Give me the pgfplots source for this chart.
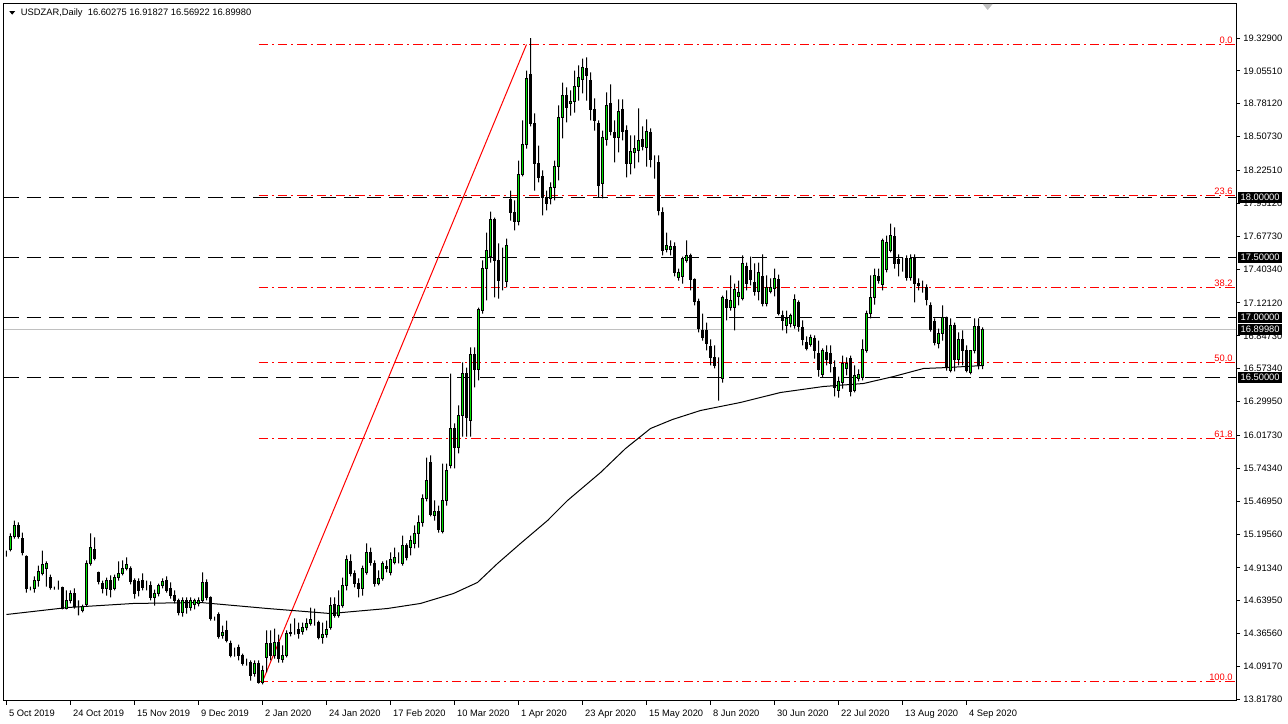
\documentclass[border=0pt]{standalone}
\usepackage{pgfplots}
\usepackage{pgfplotstable}
\pgfplotsset{compat=1.18}
\usepackage{fontspec}
\setmainfont{Liberation Sans}
\definecolor{cgreen}{RGB}{0,225,0}
\definecolor{pricegray}{RGB}{192,192,192}
\definecolor{fibred}{RGB}{255,0,0}
\newcommand{\lab}{\fontsize{7}{8}\selectfont}

\pgfplotstableread{
i o h l c
0 15.025 15.058 15.008 15.025
1 15.067 15.200 15.050 15.175
2 15.175 15.308 15.158 15.266
3 15.267 15.292 15.158 15.175
4 15.158 15.208 15.017 15.042
5 15.008 15.017 14.708 14.742
6 14.742 14.758 14.725 14.742
7 14.742 14.842 14.708 14.808
8 14.808 14.933 14.758 14.883
9 14.867 15.058 14.850 14.942
10 14.908 14.967 14.758 14.950
11 14.833 14.858 14.733 14.750
12 14.750 14.758 14.733 14.750
13 14.750 14.808 14.733 14.750
14 14.750 14.758 14.567 14.575
15 14.575 14.725 14.567 14.642
16 14.642 14.725 14.617 14.700
17 14.700 14.742 14.575 14.592
18 14.583 14.642 14.517 14.583
19 14.558 14.608 14.542 14.592
20 14.608 14.975 14.592 14.950
21 14.950 15.200 14.933 15.083
22 15.067 15.167 14.975 14.992
23 14.875 14.883 14.775 14.800
24 14.783 14.808 14.700 14.742
25 14.742 14.833 14.683 14.808
26 14.808 14.850 14.667 14.733
27 14.742 14.858 14.725 14.833
28 14.833 14.967 14.808 14.867
29 14.867 14.975 14.850 14.908
30 14.908 15.000 14.892 14.942
31 14.908 14.925 14.775 14.800
32 14.808 14.825 14.658 14.700
33 14.800 14.825 14.675 14.725
34 14.808 14.867 14.725 14.750
35 14.767 14.808 14.725 14.767
36 14.767 14.800 14.642 14.667
37 14.667 14.733 14.600 14.700
38 14.700 14.783 14.675 14.767
39 14.767 14.825 14.742 14.800
40 14.808 14.842 14.708 14.725
41 14.742 14.792 14.658 14.683
42 14.683 14.725 14.617 14.642
43 14.642 14.658 14.517 14.542
44 14.542 14.667 14.508 14.642
45 14.642 14.667 14.533 14.583
46 14.583 14.667 14.558 14.642
47 14.608 14.658 14.567 14.642
48 14.617 14.667 14.592 14.642
49 14.642 14.875 14.625 14.792
50 14.792 14.817 14.642 14.667
51 14.667 14.675 14.475 14.492
52 14.492 14.508 14.475 14.492
53 14.525 14.542 14.325 14.342
54 14.350 14.433 14.325 14.375
55 14.392 14.475 14.292 14.308
56 14.283 14.308 14.167 14.183
57 14.225 14.250 14.175 14.225
58 14.250 14.275 14.142 14.183
59 14.183 14.200 14.100 14.117
60 14.125 14.158 14.100 14.125
61 14.125 14.142 13.975 14.017
62 14.033 14.142 14.008 14.117
63 14.117 14.142 13.950 13.958
64 13.958 14.100 13.942 14.058
65 14.167 14.392 14.042 14.283
66 14.283 14.392 14.142 14.183
67 14.183 14.408 14.158 14.292
68 14.292 14.358 14.125 14.158
69 14.150 14.267 14.125 14.183
70 14.183 14.392 14.167 14.367
71 14.367 14.450 14.342 14.375
72 14.392 14.492 14.358 14.392
73 14.400 14.458 14.325 14.367
74 14.383 14.458 14.358 14.417
75 14.417 14.492 14.392 14.450
76 14.450 14.583 14.433 14.483
77 14.483 14.575 14.433 14.483
78 14.458 14.475 14.317 14.333
79 14.333 14.458 14.283 14.358
80 14.358 14.475 14.333 14.400
81 14.417 14.667 14.400 14.600
82 14.608 14.667 14.500 14.517
83 14.517 14.725 14.500 14.600
84 14.600 14.833 14.583 14.767
85 14.767 15.017 14.725 14.983
86 14.967 15.025 14.842 14.867
87 14.867 14.892 14.750 14.783
88 14.783 14.825 14.667 14.742
89 14.742 14.933 14.683 14.908
90 14.875 15.117 14.858 15.042
91 15.042 15.083 14.933 14.958
92 14.950 14.975 14.758 14.783
93 14.783 14.892 14.767 14.825
94 14.825 14.967 14.808 14.950
95 14.925 14.975 14.875 14.908
96 14.875 15.042 14.850 14.983
97 14.958 15.083 14.942 15.000
98 14.975 15.042 14.950 14.975
99 14.950 15.183 14.933 15.100
100 15.100 15.117 14.975 15.000
101 15.083 15.183 15.017 15.142
102 15.117 15.267 15.075 15.200
103 15.200 15.350 15.083 15.292
104 15.292 15.525 15.258 15.492
105 15.492 15.833 15.467 15.642
106 15.792 15.850 15.342 15.358
107 15.350 15.475 15.308 15.383
108 15.383 15.433 15.208 15.233
109 15.217 15.783 15.200 15.475
110 15.475 15.783 15.433 15.725
111 15.767 16.533 15.742 16.075
112 16.075 16.117 15.742 15.917
113 15.917 16.267 15.867 16.183
114 16.183 16.625 16.008 16.533
115 16.533 16.583 16.008 16.167
116 16.142 16.750 16.008 16.692
117 16.692 16.750 16.417 16.567
118 16.567 17.083 16.475 17.067
119 17.058 17.475 17.033 17.408
120 17.408 17.708 17.142 17.558
121 17.508 17.883 17.458 17.817
122 17.817 17.833 17.167 17.475
123 17.475 17.617 17.158 17.308
124 17.308 17.583 17.225 17.308
125 17.300 17.658 17.250 17.600
126 17.983 18.058 17.808 17.875
127 17.875 17.975 17.725 17.800
128 17.800 18.308 17.767 18.192
129 18.192 18.642 18.175 18.442
130 18.442 19.058 18.408 18.992
131 19.025 19.329 18.592 18.617
132 18.617 18.700 18.058 18.283
133 18.283 18.433 18.125 18.167
134 18.175 18.225 17.850 18.000
135 18.000 18.058 17.892 17.950
136 17.992 18.125 17.942 18.083
137 18.083 18.308 17.975 18.258
138 18.258 18.767 18.142 18.667
139 18.667 18.958 18.492 18.850
140 18.850 18.917 18.625 18.750
141 18.783 18.892 18.683 18.800
142 18.800 19.058 18.708 18.925
143 18.925 19.100 18.808 19.000
144 18.983 19.158 18.867 19.083
145 19.075 19.167 18.808 19.017
146 18.975 19.042 18.642 18.733
147 18.733 18.825 18.558 18.642
148 18.617 18.642 18.000 18.100
149 18.117 18.558 17.992 18.500
150 18.483 18.875 18.433 18.767
151 18.783 18.942 18.517 18.550
152 18.542 18.642 18.292 18.500
153 18.500 18.817 18.375 18.717
154 18.733 18.817 18.475 18.550
155 18.558 18.600 18.167 18.283
156 18.283 18.517 18.192 18.383
157 18.375 18.517 18.242 18.408
158 18.392 18.742 18.292 18.475
159 18.483 18.592 18.392 18.425
160 18.417 18.650 18.258 18.550
161 18.542 18.575 18.250 18.317
162 18.300 18.350 18.158 18.300
163 18.292 18.350 17.850 17.892
164 17.875 17.917 17.517 17.558
165 17.567 17.708 17.542 17.600
166 17.567 17.642 17.517 17.592
167 17.592 17.625 17.342 17.375
168 17.333 17.408 17.308 17.375
169 17.342 17.508 17.283 17.492
170 17.475 17.642 17.458 17.517
171 17.517 17.533 17.225 17.317
172 17.317 17.325 17.100 17.133
173 17.133 17.158 16.875 16.908
174 16.892 17.033 16.808 16.833
175 16.892 16.958 16.725 16.783
176 16.758 16.817 16.600 16.667
177 16.667 16.767 16.575 16.600
178 16.500 16.667 16.308 16.500
179 16.492 17.183 16.458 17.167
180 17.150 17.225 16.975 17.083
181 17.083 17.350 17.058 17.142
182 17.083 17.283 16.892 17.233
183 17.175 17.308 17.100 17.208
184 17.158 17.517 17.142 17.450
185 17.425 17.458 17.225 17.283
186 17.392 17.508 17.267 17.317
187 17.292 17.450 17.183 17.217
188 17.217 17.458 17.142 17.375
189 17.342 17.525 17.092 17.117
190 17.117 17.350 17.092 17.250
191 17.217 17.325 17.200 17.250
192 17.242 17.408 17.175 17.325
193 17.317 17.358 17.017 17.033
194 17.017 17.058 16.892 16.975
195 16.933 17.058 16.867 16.992
196 16.950 17.033 16.917 17.017
197 16.933 17.192 16.908 17.150
198 17.125 17.142 16.883 16.925
199 16.917 16.975 16.767 16.817
200 16.792 16.842 16.725 16.742
201 16.775 16.858 16.758 16.833
202 16.825 16.850 16.658 16.725
203 16.700 16.808 16.508 16.567
204 16.525 16.742 16.500 16.725
205 16.708 16.767 16.600 16.650
206 16.700 16.767 16.542 16.617
207 16.583 16.642 16.342 16.417
208 16.392 16.508 16.333 16.467
209 16.458 16.683 16.408 16.617
210 16.575 16.667 16.517 16.617
211 16.658 16.683 16.342 16.383
212 16.392 16.600 16.375 16.517
213 16.492 16.567 16.467 16.525
214 16.500 16.817 16.475 16.733
215 16.725 17.058 16.708 17.033
216 17.033 17.350 16.992 17.167
217 17.167 17.408 17.108 17.350
218 17.342 17.408 17.283 17.308
219 17.275 17.658 17.225 17.642
220 17.400 17.683 17.375 17.625
221 17.558 17.783 17.542 17.683
222 17.675 17.750 17.408 17.450
223 17.483 17.525 17.342 17.450
224 17.417 17.500 17.383 17.417
225 17.492 17.517 17.308 17.333
226 17.333 17.525 17.308 17.492
227 17.492 17.525 17.125 17.283
228 17.283 17.325 17.225 17.267
229 17.250 17.308 17.208 17.250
230 17.250 17.275 17.100 17.150
231 17.100 17.125 16.883 16.900
232 16.967 16.992 16.767 16.792
233 16.783 16.908 16.742 16.867
234 16.867 17.100 16.808 17.000
235 17.000 17.008 16.558 16.583
236 16.558 16.992 16.542 16.933
237 16.933 16.958 16.550 16.650
238 16.650 16.875 16.600 16.817
239 16.817 16.892 16.600 16.725
240 16.725 16.767 16.542 16.558
241 16.542 16.725 16.525 16.725
242 16.725 16.992 16.700 16.925
243 16.925 16.992 16.567 16.600
244 16.60275 16.91827 16.56922 16.89980
}\candles

\pgfplotstableread{
i ma
0 14.525
15.25 14.583
31.75 14.617
48.5 14.625
65.25 14.575
81 14.533
86.75 14.550
95.25 14.575
103.5 14.617
111.75 14.700
117.75 14.792
122.75 14.950
128.5 15.117
135.25 15.308
140.25 15.475
148.5 15.708
154.75 15.908
161 16.075
166.5 16.150
173.5 16.225
183.5 16.292
193.5 16.375
204.25 16.425
214.25 16.450
221.75 16.508
229.25 16.575
235.25 16.583
244.25 16.600
}\matable

\pgfplotsset{
  chartbase/.style={
    width=924pt, height=522.75pt, scale only axis,
    xmin=-0.625, xmax=307.375, ymin=13.8042, ymax=19.6125,
    enlargelimits=false,
  },
  lvl/.style={draw=black, line width=0.75pt, dash pattern=on 11pt off 6pt},
  fibl/.style={draw=fibred, color=fibred, line width=0.75pt, dash pattern=on 7pt off 3pt on 1.5pt off 3pt},
}

\begin{document}
\begin{tikzpicture}
\begin{axis}[
  chartbase,
  axis line style={black, line width=0.75pt},
  xtick={0,16,...,240},
  xticklabels={5 Oct 2019, 24 Oct 2019, 15 Nov 2019, 9 Dec 2019, 2 Jan 2020, 24 Jan 2020, 17 Feb 2020, 10 Mar 2020, 1 Apr 2020, 23 Apr 2020, 15 May 2020, 8 Jun 2020, 30 Jun 2020, 22 Jul 2020, 13 Aug 2020, 4 Sep 2020},
  ytick={19.329,19.0551,18.7812,18.5073,18.2251,17.9512,17.6773,17.4034,17.1212,16.8473,16.5734,16.2995,16.0173,15.7434,15.4695,15.1956,14.9134,14.6395,14.3656,14.0917,13.8178},
  yticklabels={19.32900,19.05510,18.78120,18.50730,18.22510,17.95120,17.67730,17.40340,17.12120,16.84730,16.57340,16.29950,16.01730,15.74340,15.46950,15.19560,14.91340,14.63950,14.36560,14.09170,13.81780},
  xtick pos=bottom, ytick pos=right, yticklabel pos=right,
  tick align=outside, major tick length=3pt,
  tick style={black, line width=0.75pt},
  xticklabel style={anchor=north west, xshift=-1.5pt, font=\lab},
  yticklabel style={font=\lab, xshift=-1pt},
]
% current price line
\addplot[pricegray, line width=0.75pt] coordinates {(-0.625,16.8998) (307.375,16.8998)};
% horizontal levels
\addplot[lvl] coordinates {(-0.625,16.5) (307.375,16.5)};
\addplot[lvl] coordinates {(-0.625,17) (307.375,17)};
\addplot[lvl] coordinates {(-0.625,17.5) (307.375,17.5)};
\addplot[lvl] coordinates {(-0.625,18) (307.375,18)};
% fibonacci levels
\addplot[fibl] coordinates {(63,19.275) (307.375,19.275)};
\addplot[fibl] coordinates {(63,18.0167) (307.375,18.0167)};
\addplot[fibl] coordinates {(63,17.25) (307.375,17.25)};
\addplot[fibl] coordinates {(63,16.625) (307.375,16.625)};
\addplot[fibl] coordinates {(63,15.9917) (307.375,15.9917)};
\addplot[fibl] coordinates {(63,13.9667) (307.375,13.9667)};
% trend line
\addplot[fibred, line width=0.75pt] coordinates {(64,13.9667) (130,19.275)};
% moving average
\addplot[black, line width=0.75pt] table[x=i, y=ma] {\matable};
% anchor coordinates
\coordinate (f0) at (axis cs:306.8,19.275);
\coordinate (f1) at (axis cs:306.8,18.0167);
\coordinate (f2) at (axis cs:306.8,17.25);
\coordinate (f3) at (axis cs:306.8,16.625);
\coordinate (f4) at (axis cs:306.8,15.9917);
\coordinate (f5) at (axis cs:306.8,13.9667);
\coordinate (b1) at (axis cs:307.375,18);
\coordinate (b2) at (axis cs:307.375,17.5);
\coordinate (b3) at (axis cs:307.375,17);
\coordinate (b4) at (axis cs:307.375,16.8998);
\coordinate (b5) at (axis cs:307.375,16.5);
\end{axis}

% wicks
\begin{axis}[chartbase, hide axis, ybar stacked, bar width=0.75pt]
\addplot[draw=none, fill=none] table[x=i, y=l] {\candles};
\addplot[draw=none, fill=black] table[x=i, y expr={\thisrow{h}-\thisrow{l}}] {\candles};
\end{axis}

% bodies
\begin{axis}[chartbase, hide axis, ybar stacked, bar width=1.5pt]
\addplot[draw=none, fill=none] table[x=i, y expr={min(\thisrow{o},\thisrow{c})}] {\candles};
\addplot[draw=black, fill=cgreen, line width=0.75pt] table[x=i, y expr={max(\thisrow{c}-\thisrow{o},0)}] {\candles};
\addplot[draw=black, fill=black, line width=0.75pt] table[x=i, y expr={max(\thisrow{o}-\thisrow{c},0)}] {\candles};
\end{axis}

% fib labels
\tikzset{fiblab/.style={anchor=south east, text=fibred, font=\lab, inner sep=0.6pt}}
\node[fiblab] at (f0) {0.0};
\node[fiblab] at (f1) {23.6};
\node[fiblab] at (f2) {38.2};
\node[fiblab] at (f3) {50.0};
\node[fiblab] at (f4) {61.8};
\node[fiblab] at (f5) {100.0};

% price boxes
\tikzset{pbox/.style={anchor=west, fill=black, text=white, font=\lab, inner xsep=2pt, inner ysep=0pt, minimum height=7.8pt}}
\node[pbox] at ([xshift=1.3pt]b1) {18.00000};
\node[pbox] at ([xshift=1.3pt]b2) {17.50000};
\node[pbox] at ([xshift=1.3pt]b3) {17.00000};
\node[pbox] at ([xshift=1.3pt]b4) {16.89980};
\node[pbox] at ([xshift=1.3pt]b5) {16.50000};

% title
\fill ([xshift=4pt,yshift=-5.4pt]current axis.north west) -- ++(4.3pt,0) -- ++(-2.15pt,-2.6pt) -- cycle;
\node[anchor=west, font=\lab, inner sep=0pt] at ([xshift=12.5pt,yshift=-6.5pt]current axis.north west) {USDZAR,Daily\ \ 16.60275 16.91827 16.56922 16.89980};
% chart shift marker
\fill[pricegray] ([xshift=734pt]current axis.north west) -- ++(7.5pt,0) -- ++(-3.75pt,-4.5pt) -- cycle;

\pgfresetboundingbox
\path ([shift={(-3pt,-17.25pt)}]current axis.south west) rectangle ([shift={(39pt,3pt)}]current axis.north east);
\end{tikzpicture}
\end{document}
